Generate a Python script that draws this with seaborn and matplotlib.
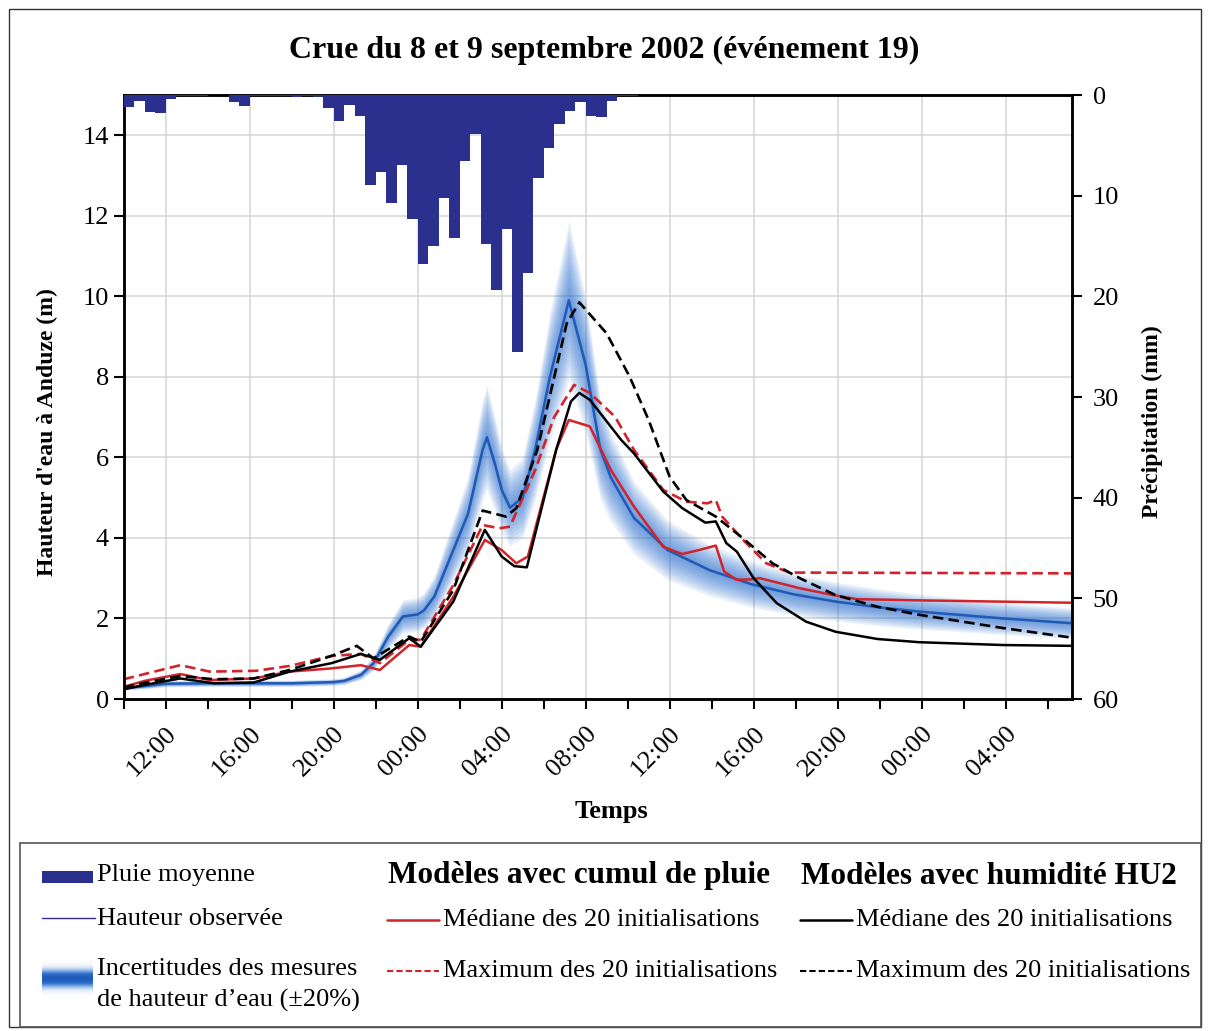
import numpy as np
import matplotlib
matplotlib.use("Agg")
import matplotlib.pyplot as plt
from matplotlib.patches import Rectangle
from matplotlib.lines import Line2D
from matplotlib.colors import LinearSegmentedColormap
import seaborn as sns

# time in hours since 08/09/2002 10:00
obs_t = [0, 1, 2, 4, 6, 8, 10, 10.5, 11.3, 11.9, 12.6, 13.3, 14.0, 14.3, 14.8, 15.7, 16.4, 17.1, 17.3,
         17.7, 18.0, 18.4, 19.0, 19.6, 20.3, 21.2, 22.0, 22.7, 23.2, 24.3, 25.9, 27.9, 29.9, 31.9, 33.9,
         35.9, 37.9, 41.9, 45.2]
obs_h = [0.27, 0.32, 0.38, 0.39, 0.39, 0.39, 0.42, 0.45, 0.6, 0.89, 1.55, 2.05, 2.1, 2.2, 2.55, 3.7, 4.6,
         6.2, 6.5, 5.8, 5.2, 4.75, 5.0, 6.2, 8.0, 9.9, 8.3, 6.2, 5.5, 4.5, 3.7, 3.2, 2.85, 2.6, 2.42,
         2.28, 2.17, 2.0, 1.88]

# modeles avec cumul de pluie
cum_med_t = [0, 1, 2.7, 4.1, 6.2, 7.9, 9.9, 11.3, 12.2, 13.6, 14.15, 15.7, 17.2, 18.0, 18.7, 19.25, 20.6,
             21.2, 22.2, 23.2, 24.3, 25.7, 26.6, 27.4, 28.2, 28.6, 29.2, 29.8, 30.3, 32.2, 33.8, 34.9,
             37.9, 45.2]
cum_med_h = [0.3, 0.45, 0.62, 0.47, 0.51, 0.68, 0.76, 0.84, 0.72, 1.34, 1.3, 2.54, 3.95, 3.7, 3.37, 3.54,
             6.2, 6.93, 6.77, 5.69, 4.78, 3.78, 3.6, 3.7, 3.81, 3.16, 2.96, 2.97, 3.0, 2.75, 2.58, 2.48,
             2.45, 2.39]
cum_max_t = [0, 1, 2.7, 4.1, 6.3, 7.9, 9.9, 11.3, 12.2, 13.6, 14.15, 15.7, 17.1, 17.9, 18.4, 19.6, 20.5,
             21.45, 22.2, 23.4, 24.3, 25.7, 26.8, 27.8, 28.2, 28.5, 29.5, 30.6, 31.7, 45.2]
cum_max_h = [0.49, 0.62, 0.84, 0.68, 0.7, 0.82, 1.07, 1.12, 0.89, 1.47, 1.47, 2.83, 4.32, 4.24, 4.28,
             5.69, 7.0, 7.8, 7.6, 7.01, 6.19, 5.19, 4.9, 4.86, 4.94, 4.53, 3.95, 3.37, 3.14, 3.12]

# modeles avec humidite HU2
hu_med_t = [0, 1, 2.7, 4.3, 6.2, 7.9, 9.9, 11.3, 12.2, 13.6, 14.15, 15.7, 17.2, 18.0, 18.6, 19.2, 20.6,
            21.3, 21.7, 22.2, 23.7, 24.3, 25.7, 26.6, 27.7, 28.2, 28.7, 29.2, 30.0, 31.1, 32.5, 33.9,
            35.9, 37.9, 41.9, 45.2]
hu_med_h = [0.24, 0.35, 0.51, 0.39, 0.41, 0.68, 0.89, 1.12, 0.97, 1.51, 1.3, 2.42, 4.2, 3.54, 3.3, 3.27,
            6.19, 7.39, 7.6, 7.43, 6.43, 6.1, 5.15, 4.74, 4.38, 4.41, 3.87, 3.66, 3.0, 2.38, 1.92, 1.67,
            1.49, 1.41, 1.34, 1.32]
hu_max_t = [0, 1, 2.7, 4.3, 6.2, 7.9, 9.9, 11.1, 11.9, 13.6, 14.15, 15.7, 17.1, 18.2, 18.7, 19.7, 21.1,
            21.7, 23.0, 24.1, 25.0, 26.0, 26.8, 28.2, 29.4, 30.9, 32.2, 33.9, 35.9, 37.9, 41.9, 45.2]
hu_max_h = [0.29, 0.4, 0.57, 0.49, 0.51, 0.72, 1.07, 1.32, 1.01, 1.55, 1.42, 2.71, 4.68, 4.53, 4.74,
            6.19, 9.33, 9.85, 9.08, 8.0, 6.93, 5.52, 4.94, 4.53, 4.03, 3.37, 3.0, 2.58, 2.29, 2.09,
            1.76, 1.52]

# pluie moyenne, pas de 30 min depuis 10:00
rain = [1.16, 0.56, 1.65, 1.75, 0.43, 0.1, 0.05, 0.07, 0.0, 0.0, 0.66, 1.1, 0.05, 0.05, 0.05, 0.05,
        0.15, 0.05, 0.15, 1.26, 2.55, 1.0, 2.1, 8.9, 7.6, 10.7, 7.0, 12.3, 16.8, 15.0, 10.2, 14.2, 6.55,
        3.9, 14.8, 19.4, 13.3, 25.5, 17.7, 8.2, 5.3, 2.85, 1.55, 0.7, 2.1, 2.2, 0.6, 0.05, 0.05]

tick_hours = [2, 6, 10, 14, 18, 22, 26, 30, 34, 38, 42]
tick_labels = ["12:00", "16:00", "20:00", "00:00", "04:00", "08:00", "12:00", "16:00", "20:00",
               "00:00", "04:00"]

navy = "#2b2f8e"
red = "#d2232a"
blue = "#1f5bb5"
band = "#2f72d0"
dash = (0, (4, 2))

sns.set_theme(style="ticks")
plt.rcParams['font.family'] = ['Liberation Serif', 'DejaVu Serif']
plt.rcParams.update({"text.color": "black", "axes.labelcolor": "black",
                     "xtick.color": "black", "ytick.color": "black"})

W, H = 1210, 1031
fig = plt.figure(figsize=(W / 100, H / 100), dpi=100)
ax = fig.add_axes([123.6 / W, 1 - 699 / H, (1072 - 123.6) / W, (699 - 95) / H])

# incertitudes +-20% en degrade
obs = np.array(obs_h)
for f in np.linspace(0.2, 0.02, 10):
    ax.fill_between(obs_t, obs * (1 - f), obs * (1 + f), color=band, alpha=0.1, lw=0, zorder=2)

sns.lineplot(x=obs_t, y=obs_h, ax=ax, color=blue, lw=1.8, zorder=4)
sns.lineplot(x=cum_med_t, y=cum_med_h, ax=ax, color=red, lw=1.8, zorder=5)
sns.lineplot(x=cum_max_t, y=cum_max_h, ax=ax, color=red, lw=1.9, ls=dash, zorder=5)
sns.lineplot(x=hu_med_t, y=hu_med_h, ax=ax, color="black", lw=1.8, zorder=6)
sns.lineplot(x=hu_max_t, y=hu_max_h, ax=ax, color="black", lw=1.9, ls=dash, zorder=6)

ax.set_xlim(0, 45.16)
ax.set_ylim(0, 15)
ax.set_yticks(range(0, 15, 2))
ax.set_xticks(tick_hours)
ax.set_xticklabels(tick_labels, rotation=45, ha="right", rotation_mode="anchor")
ax.set_xticks(range(0, 46, 2), minor=True)
ax.grid(True, which="major", color="#d4d4d4", lw=1.1)
ax.tick_params(axis="both", which="both", direction="out", length=7, width=1.5, labelsize=19)
ax.tick_params(axis="x", which="major", pad=10)
for s in ax.spines.values():
    s.set_linewidth(1.8)
    s.set_color("black")

ax.set_xlabel("Temps", fontsize=19, fontweight="bold")
ax.xaxis.set_label_coords((611 - 123.6) / 948.4, -(800 - 699) / 604)
ax.set_ylabel("Hauteur d'eau à Anduze (m)", fontsize=17, fontweight="bold")
ax.yaxis.set_label_coords((58 - 123.6) / 948.4, (699 - 432) / 604)

# pluie sur axe secondaire inverse
ax2 = ax.twinx()
rain_t = np.arange(len(rain)) * 0.5
ax2.bar(rain_t, rain, width=0.5, align="edge", color=navy, lw=0, zorder=3)
ax2.set_ylim(60, 0)
ax2.set_yticks(range(0, 61, 10))
ax2.tick_params(axis="y", direction="out", length=7, width=1.5, labelsize=19, pad=8)
ax2.set_ylabel("Précipitation (mm)", fontsize=17, fontweight="bold")
ax2.yaxis.set_label_coords((1142 - 123.6) / 948.4, (699 - 422) / 604)
for s in ax2.spines.values():
    s.set_linewidth(1.8)
    s.set_color("black")
ax2.grid(False)

fig.text(604 / W, 1 - 50 / H, "Crue du 8 et 9 septembre 2002 (événement 19)", ha="center", va="center",
         fontsize=23, fontweight="bold")

# cadres
fig.add_artist(Rectangle((9 / W, 1 - 1027 / H), (1201 - 9) / W, (1027 - 9) / H, transform=fig.transFigure,
                         fill=False, ec="#333333", lw=1.0))
fig.add_artist(Rectangle((20 / W, 1 - 1027 / H), (1201 - 20) / W, (1027 - 843) / H,
                         transform=fig.transFigure, fill=False, ec="#555555", lw=1.2))


def fx(x):
    return x / W


def fy(y):
    return 1 - y / H


# legende manuelle
fs = 19
fig.add_artist(Rectangle((fx(42), fy(883)), fx(51), 12 / H, transform=fig.transFigure, color=navy, lw=0))
fig.text(fx(97), fy(875), "Pluie moyenne", fontsize=fs, va="center")
fig.add_artist(Line2D([fx(42), fx(95)], [fy(918), fy(918)], transform=fig.transFigure, color=navy, lw=1))
fig.text(fx(97), fy(919), "Hauteur observée", fontsize=fs, va="center")
grad = np.exp(-((np.linspace(-1, 1, 60)) ** 2) / 0.18)
cmap = LinearSegmentedColormap.from_list("b", ["white", "#8fb5e6", band, "#1f5bb5"])
gax = fig.add_axes([fx(42), fy(997), 51 / W, 37 / H])
gax.imshow(grad[:, None] * np.ones((1, 10)), aspect="auto", cmap=cmap, vmin=0, vmax=1)
gax.axis("off")
fig.text(fx(97), fy(969), "Incertitudes des mesures", fontsize=fs, va="center")
fig.text(fx(97), fy(1000), "de hauteur d\u2019eau (\u00b120%)", fontsize=fs, va="center")

for x0, col, head in [(387, red, "Modèles avec cumul de pluie"), (800, "black", "Modèles avec humidité HU2")]:
    fig.text(fx(x0 + 1), fy(876), head, fontsize=22.5, fontweight="bold", va="center")
    fig.add_artist(Line2D([fx(x0), fx(x0 + 52)], [fy(920), fy(920)], transform=fig.transFigure,
                          color=col, lw=1.8))
    fig.text(fx(x0 + 56), fy(920), "Médiane des 20 initialisations", fontsize=fs, va="center")
    fig.add_artist(Line2D([fx(x0), fx(x0 + 52)], [fy(971), fy(971)], transform=fig.transFigure,
                          color=col, lw=1.5, ls=(0, (3, 1.5))))
    fig.text(fx(x0 + 56), fy(971), "Maximum des 20 initialisations", fontsize=fs, va="center")

fig.savefig("out.png", dpi=100)
